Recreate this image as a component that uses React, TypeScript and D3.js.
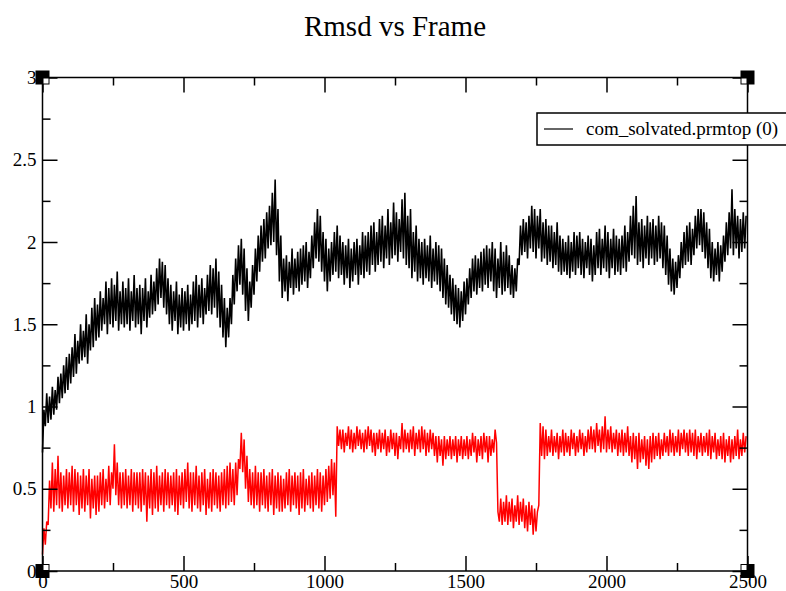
import React, { useEffect, useRef } from 'react';
import * as d3 from 'd3';

// Frame step between stored samples (each sample).
const FRAME_STEP = 5;

const X_TICKS = [0, 500, 1000, 1500, 2000, 2500];
const Y_TICKS = [0, 0.5, 1, 1.5, 2, 2.5, 3];
const LEGEND_LABEL = 'com_solvated.prmtop (0)';

// RMSD of complex (black), sampled every 5 frames
const RMSD_BLACK = [
  0.72, 0.98, 0.88, 1.08, 0.9, 1.06, 0.92, 1.12, 0.95, 1.1,
  0.98, 1.18, 1.02, 1.2, 1.05, 1.25, 1.08, 1.3, 1.1, 1.32,
  1.14, 1.36, 1.18, 1.44, 1.2, 1.4, 1.26, 1.5, 1.28, 1.46,
  1.3, 1.56, 1.26, 1.5, 1.34, 1.6, 1.36, 1.66, 1.4, 1.62,
  1.42, 1.7, 1.46, 1.66, 1.5, 1.76, 1.44, 1.72, 1.5, 1.78,
  1.48, 1.74, 1.52, 1.82, 1.46, 1.7, 1.5, 1.76, 1.48, 1.72,
  1.5, 1.78, 1.46, 1.7, 1.52, 1.8, 1.48, 1.72, 1.5, 1.74,
  1.44, 1.72, 1.52, 1.78, 1.48, 1.7, 1.54, 1.8, 1.56, 1.76,
  1.58, 1.84, 1.62, 1.9, 1.66, 1.88, 1.6, 1.86, 1.56, 1.78,
  1.5, 1.74, 1.46, 1.7, 1.52, 1.76, 1.44, 1.68, 1.48, 1.72,
  1.46, 1.7, 1.5, 1.74, 1.46, 1.68, 1.5, 1.76, 1.52, 1.8,
  1.48, 1.74, 1.54, 1.78, 1.5, 1.72, 1.56, 1.8, 1.58, 1.86,
  1.56, 1.84, 1.6, 1.9, 1.54, 1.82, 1.48, 1.74, 1.42, 1.66,
  1.36, 1.6, 1.42, 1.66, 1.5, 1.8, 1.62, 1.9, 1.7, 1.98,
  1.74, 2.02, 1.68, 1.96, 1.58, 1.84, 1.52, 1.76, 1.6, 1.86,
  1.68, 1.96, 1.76, 2.04, 1.82, 2.1, 1.88, 2.14, 1.9, 2.18,
  1.96, 2.22, 1.98, 2.3, 2.0, 2.38, 1.92, 2.2, 1.76, 2.04,
  1.66, 1.9, 1.7, 1.92, 1.64, 1.88, 1.72, 1.96, 1.68, 1.9,
  1.72, 1.94, 1.7, 1.96, 1.74, 1.98, 1.76, 2.0, 1.72, 1.94,
  1.78, 2.04, 1.84, 2.12, 1.9, 2.2, 1.88, 2.16, 1.82, 2.06,
  1.76, 2.02, 1.7, 1.96, 1.76, 2.0, 1.8, 2.06, 1.82, 2.1,
  1.78, 2.04, 1.8, 2.0, 1.74, 1.98, 1.78, 2.02, 1.72, 1.96,
  1.76, 2.0, 1.8, 2.02, 1.74, 1.98, 1.8, 2.06, 1.78, 2.04,
  1.82, 2.06, 1.8, 2.1, 1.86, 2.12, 1.82, 2.06, 1.86, 2.14,
  1.88, 2.16, 1.84, 2.1, 1.9, 2.2, 1.86, 2.12, 1.9, 2.24,
  1.92, 2.18, 1.88, 2.14, 1.94, 2.26, 1.9, 2.3, 1.86, 2.16,
  1.84, 2.2, 1.78, 2.06, 1.82, 2.1, 1.76, 2.02, 1.78, 2.0,
  1.74, 2.02, 1.78, 1.98, 1.76, 2.04, 1.72, 1.96, 1.76, 2.0,
  1.74, 1.98, 1.7, 1.96, 1.66, 1.9, 1.62, 1.86, 1.6, 1.8,
  1.56, 1.78, 1.52, 1.74, 1.5, 1.72, 1.48, 1.7, 1.52, 1.76,
  1.56, 1.78, 1.62, 1.84, 1.66, 1.9, 1.7, 1.92, 1.68, 1.9,
  1.72, 1.94, 1.7, 1.96, 1.74, 1.98, 1.72, 1.96, 1.76, 2.0,
  1.7, 1.96, 1.66, 1.9, 1.72, 2.0, 1.68, 1.94, 1.7, 1.98,
  1.72, 1.92, 1.68, 1.86, 1.66, 1.84, 1.7, 1.9, 1.86, 2.1,
  1.92, 2.14, 1.94, 2.12, 1.9, 2.16, 1.96, 2.22, 1.94, 2.2,
  1.9, 2.16, 1.96, 2.2, 1.88, 2.12, 1.9, 2.14, 1.86, 2.1,
  1.88, 2.1, 1.84, 2.06, 1.86, 2.12, 1.82, 2.04, 1.8, 2.02,
  1.82, 2.0, 1.8, 2.04, 1.78, 2.0, 1.82, 2.06, 1.8, 2.04,
  1.84, 2.06, 1.8, 2.02, 1.78, 2.0, 1.84, 2.04, 1.8, 2.02,
  1.76, 1.98, 1.8, 2.06, 1.84, 2.08, 1.8, 2.02, 1.84, 2.1,
  1.82, 2.06, 1.78, 2.02, 1.84, 2.08, 1.8, 2.04, 1.82, 2.02,
  1.8, 2.04, 1.84, 2.1, 1.82, 2.06, 1.88, 2.16, 1.92, 2.22,
  1.9, 2.28, 1.86, 2.12, 1.88, 2.14, 1.84, 2.1, 1.9, 2.16,
  1.86, 2.12, 1.9, 2.14, 1.86, 2.1, 1.88, 2.16, 1.9, 2.12,
  1.84, 2.1, 1.8, 2.04, 1.74, 1.96, 1.7, 1.9, 1.68, 1.88,
  1.72, 1.92, 1.78, 2.0, 1.84, 2.06, 1.86, 2.1, 1.88, 2.12,
  1.86, 2.08, 1.92, 2.16, 1.96, 2.2, 1.98, 2.2, 1.94, 2.18,
  1.9, 2.12, 1.84, 2.08, 1.78, 2.0, 1.76, 1.96, 1.8, 2.0,
  1.76, 1.98, 1.82, 2.04, 1.88, 2.12, 1.92, 2.18, 1.96, 2.32,
  1.92, 2.2, 1.96, 2.16, 1.9, 2.14, 1.94, 2.18, 1.96, 2.16,
];

// RMSD of the second selection (red), sampled every 5 frames
const RMSD_RED = [
  0.1, 0.26, 0.16, 0.3, 0.28, 0.55, 0.38, 0.66, 0.36, 0.62,
  0.4, 0.7, 0.38, 0.6, 0.36, 0.58, 0.4, 0.62, 0.38, 0.6,
  0.4, 0.64, 0.36, 0.62, 0.4, 0.6, 0.34, 0.58, 0.38, 0.62,
  0.36, 0.58, 0.4, 0.62, 0.32, 0.56, 0.38, 0.58, 0.34, 0.58,
  0.36, 0.6, 0.4, 0.62, 0.38, 0.56, 0.42, 0.64, 0.4, 0.6,
  0.5, 0.77, 0.46, 0.66, 0.4, 0.6, 0.38, 0.6, 0.4, 0.62,
  0.38, 0.58, 0.4, 0.62, 0.36, 0.6, 0.4, 0.6, 0.38, 0.6,
  0.36, 0.62, 0.4, 0.6, 0.3, 0.58, 0.38, 0.62, 0.34, 0.6,
  0.38, 0.64, 0.36, 0.58, 0.4, 0.6, 0.36, 0.62, 0.4, 0.6,
  0.38, 0.58, 0.4, 0.6, 0.36, 0.62, 0.34, 0.58, 0.4, 0.6,
  0.38, 0.62, 0.42, 0.66, 0.38, 0.6, 0.36, 0.6, 0.4, 0.64,
  0.38, 0.58, 0.36, 0.6, 0.4, 0.62, 0.34, 0.56, 0.38, 0.6,
  0.36, 0.62, 0.4, 0.6, 0.38, 0.58, 0.36, 0.6, 0.4, 0.62,
  0.38, 0.64, 0.4, 0.66, 0.42, 0.62, 0.4, 0.66, 0.46, 0.68,
  0.62, 0.84, 0.6, 0.8, 0.5, 0.7, 0.42, 0.62, 0.4, 0.6,
  0.38, 0.64, 0.4, 0.6, 0.36, 0.6, 0.4, 0.62, 0.38, 0.58,
  0.36, 0.6, 0.4, 0.62, 0.34, 0.58, 0.38, 0.6, 0.36, 0.58,
  0.36, 0.56, 0.38, 0.6, 0.4, 0.62, 0.36, 0.58, 0.4, 0.6,
  0.38, 0.58, 0.34, 0.6, 0.38, 0.62, 0.36, 0.56, 0.4, 0.58,
  0.38, 0.6, 0.36, 0.58, 0.4, 0.62, 0.38, 0.6, 0.36, 0.58,
  0.4, 0.62, 0.42, 0.64, 0.44, 0.68, 0.46, 0.66, 0.33, 0.88,
  0.76, 0.86, 0.74, 0.86, 0.72, 0.84, 0.76, 0.88, 0.74, 0.86,
  0.72, 0.84, 0.74, 0.88, 0.76, 0.86, 0.74, 0.84, 0.72, 0.86,
  0.74, 0.88, 0.76, 0.86, 0.72, 0.84, 0.7, 0.84, 0.74, 0.86,
  0.72, 0.84, 0.74, 0.86, 0.7, 0.82, 0.72, 0.86, 0.74, 0.84,
  0.7, 0.84, 0.68, 0.82, 0.74, 0.9, 0.72, 0.86, 0.74, 0.84,
  0.72, 0.86, 0.74, 0.88, 0.7, 0.84, 0.74, 0.86, 0.72, 0.88,
  0.74, 0.86, 0.7, 0.84, 0.72, 0.86, 0.74, 0.84, 0.7, 0.82,
  0.66, 0.82, 0.7, 0.8, 0.64, 0.82, 0.68, 0.8, 0.7, 0.82,
  0.68, 0.8, 0.7, 0.82, 0.66, 0.8, 0.7, 0.82, 0.68, 0.8,
  0.7, 0.82, 0.68, 0.8, 0.7, 0.84, 0.72, 0.82, 0.66, 0.8,
  0.7, 0.82, 0.68, 0.84, 0.72, 0.82, 0.66, 0.82, 0.7, 0.8,
  0.72, 0.86, 0.78, 0.36, 0.3, 0.44, 0.28, 0.42, 0.3, 0.46,
  0.28, 0.42, 0.3, 0.44, 0.26, 0.4, 0.3, 0.46, 0.28, 0.42,
  0.3, 0.44, 0.26, 0.4, 0.24, 0.42, 0.28, 0.4, 0.22, 0.38,
  0.24, 0.36, 0.4, 0.9, 0.7, 0.88, 0.68, 0.86, 0.7, 0.82,
  0.72, 0.86, 0.7, 0.82, 0.72, 0.84, 0.68, 0.82, 0.72, 0.86,
  0.7, 0.84, 0.72, 0.82, 0.7, 0.86, 0.74, 0.84, 0.7, 0.82,
  0.72, 0.86, 0.74, 0.84, 0.7, 0.82, 0.72, 0.86, 0.74, 0.88,
  0.74, 0.86, 0.72, 0.9, 0.76, 0.86, 0.72, 0.88, 0.74, 0.94,
  0.72, 0.86, 0.74, 0.88, 0.72, 0.84, 0.74, 0.86, 0.7, 0.84,
  0.72, 0.86, 0.7, 0.84, 0.72, 0.88, 0.7, 0.82, 0.66, 0.84,
  0.68, 0.82, 0.62, 0.84, 0.66, 0.8, 0.68, 0.82, 0.64, 0.8,
  0.62, 0.82, 0.66, 0.84, 0.68, 0.82, 0.7, 0.84, 0.68, 0.8,
  0.7, 0.84, 0.72, 0.82, 0.7, 0.86, 0.72, 0.84, 0.7, 0.82,
  0.72, 0.86, 0.7, 0.84, 0.74, 0.86, 0.72, 0.84, 0.7, 0.86,
  0.72, 0.84, 0.7, 0.86, 0.68, 0.82, 0.72, 0.84, 0.7, 0.82,
  0.72, 0.84, 0.7, 0.86, 0.68, 0.82, 0.72, 0.84, 0.68, 0.8,
  0.7, 0.82, 0.68, 0.84, 0.66, 0.8, 0.7, 0.82, 0.66, 0.8,
  0.68, 0.82, 0.7, 0.86, 0.68, 0.8, 0.7, 0.84, 0.72, 0.82,
];

const FONT = '"Liberation Serif", "DejaVu Serif", serif';

export default function App() {
  const svgRef = useRef<SVGSVGElement>(null);

  useEffect(() => {
    const width = 786;
    const height = 591;
    const left = 42.5, right = 747.5, top = 77.5, bottom = 571;

    const svg = d3.select(svgRef.current);
    svg.selectAll('*').remove();
    svg.attr('width', width).attr('height', height);

    const x = d3.scaleLinear().domain([0, 2500]).range([left, right]);
    const y = d3.scaleLinear().domain([0, 3]).range([bottom, top]);

    // Title
    svg.append('text').attr('x', (left + right) / 2).attr('y', 36).attr('text-anchor', 'middle')
      .style('font-family', FONT).style('font-size', '29px').style('fill', '#000')
      .text('Rmsd vs Frame');

    // Series
    const line = d3.line<number>().x((_, i) => x(i * FRAME_STEP)).y(d => y(d));
    svg.append('path').datum(RMSD_BLACK).attr('d', line)
      .attr('fill', 'none').attr('stroke', '#000').attr('stroke-width', 1.6);
    svg.append('path').datum(RMSD_RED).attr('d', line)
      .attr('fill', 'none').attr('stroke', '#ff0000').attr('stroke-width', 1.5);

    // Frame
    svg.append('rect').attr('x', left).attr('y', top).attr('width', right - left).attr('height', bottom - top)
      .attr('fill', 'none').attr('stroke', '#000').attr('stroke-width', 1.5);

    // Inward ticks on all four sides
    const xMinor = d3.range(250, 2500, 500);
    const yMinor = d3.range(0.25, 3, 0.5);
    const tickStyle = (g: any) => {
      g.select('.domain').remove();
      g.selectAll('line').attr('stroke', '#000').attr('stroke-width', 1.5);
      g.selectAll('text').style('font-family', FONT).style('font-size', '19px').attr('fill', '#000');
    };

    svg.append('g').attr('transform', `translate(0,${bottom})`)
      .call(d3.axisBottom(x).tickValues(X_TICKS).tickSize(-15).tickPadding(4).tickFormat(d3.format('d')))
      .call(tickStyle);
    svg.append('g').attr('transform', `translate(0,${bottom})`)
      .call(d3.axisBottom(x).tickValues(xMinor).tickSize(-8).tickFormat(() => ''))
      .call(tickStyle);
    svg.append('g').attr('transform', `translate(0,${top})`)
      .call(d3.axisTop(x).tickValues(X_TICKS).tickSize(-15).tickFormat(() => ''))
      .call(tickStyle);
    svg.append('g').attr('transform', `translate(0,${top})`)
      .call(d3.axisTop(x).tickValues(xMinor).tickSize(-8).tickFormat(() => ''))
      .call(tickStyle);

    svg.append('g').attr('transform', `translate(${left},0)`)
      .call(d3.axisLeft(y).tickValues(Y_TICKS).tickSize(-15).tickPadding(6).tickFormat(d => `${d}`))
      .call(tickStyle);
    svg.append('g').attr('transform', `translate(${left},0)`)
      .call(d3.axisLeft(y).tickValues(yMinor).tickSize(-8).tickFormat(() => ''))
      .call(tickStyle);
    svg.append('g').attr('transform', `translate(${right},0)`)
      .call(d3.axisRight(y).tickValues(Y_TICKS).tickSize(-15).tickFormat(() => ''))
      .call(tickStyle);
    svg.append('g').attr('transform', `translate(${right},0)`)
      .call(d3.axisRight(y).tickValues(yMinor).tickSize(-8).tickFormat(() => ''))
      .call(tickStyle);

    // Corner markers
    const corners = [[left, top, 1, 1], [right, top, -1, 1], [left, bottom, 1, -1], [right, bottom, -1, -1]];
    corners.forEach(([cx, cy, sx, sy]) => {
      svg.append('rect').attr('x', cx - 7).attr('y', cy - 7).attr('width', 14).attr('height', 14).attr('fill', '#000');
      svg.append('rect')
        .attr('x', sx > 0 ? cx + 1 : cx - 6).attr('y', sy > 0 ? cy + 1 : cy - 6)
        .attr('width', 5).attr('height', 5).attr('fill', '#fff');
    });

    // Legend
    const lg = svg.append('g');
    lg.append('rect').attr('x', 537).attr('y', 113).attr('width', 260).attr('height', 32)
      .attr('fill', '#fff').attr('stroke', '#000').attr('stroke-width', 1.5);
    lg.append('line').attr('x1', 544).attr('x2', 573).attr('y1', 129).attr('y2', 129)
      .attr('stroke', '#000').attr('stroke-width', 1.2);
    lg.append('text').attr('x', 586).attr('y', 135)
      .style('font-family', FONT).style('font-size', '19px').style('fill', '#000')
      .text(LEGEND_LABEL);
  }, []);

  return (
    <div style={{ position: 'absolute', left: 0, top: 0, width: 786, height: 591, background: '#fff', overflow: 'hidden' }}>
      <svg ref={svgRef} style={{ display: 'block' }}></svg>
    </div>
  );
}
